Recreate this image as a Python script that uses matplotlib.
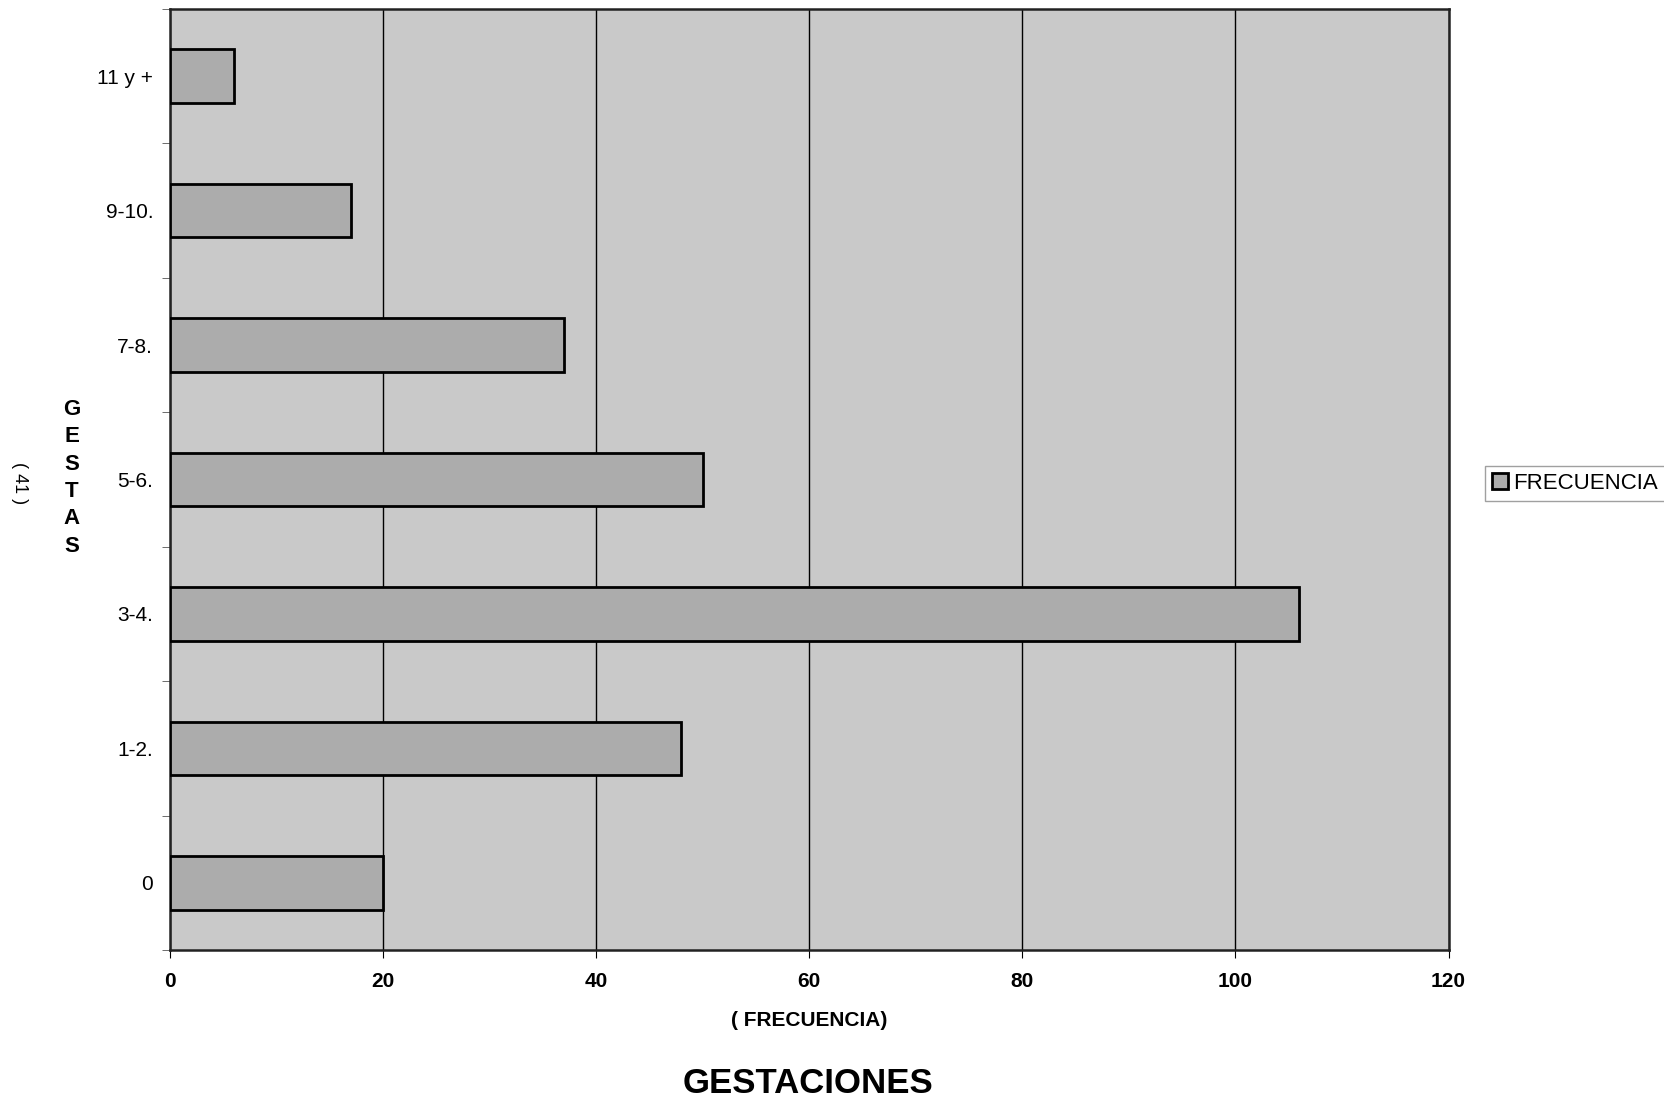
import numpy as np
import matplotlib.pyplot as plt

# data
categorias = ['0', '1-2.', '3-4.', '5-6.', '7-8.', '9-10.', '11 y +']
frecuencia = [20, 48, 106, 50, 37, 17, 6]
x_ticks = [0, 20, 40, 60, 80, 100, 120]


def main():
    plt.rcParams['font.family'] = ['Liberation Sans', 'DejaVu Sans']

    fig = plt.figure(figsize=(16.65, 11.01), dpi=100)
    ax = fig.add_axes([0.102, 0.137, 0.768, 0.855])
    ax.set_facecolor('#c9c9c9')

    pos = np.arange(len(categorias))
    bars = ax.barh(pos, frecuencia, height=0.4, color='#acacac',
                   edgecolor='black', linewidth=2, zorder=3,
                   label='FRECUENCIA')

    ax.set_xlim(0, 120)
    ax.set_ylim(-0.5, len(categorias) - 0.5)
    ax.set_xticks(x_ticks)
    ax.set_xticklabels([str(v) for v in x_ticks], fontsize=15, fontweight='bold')
    ax.set_yticks(pos)
    ax.set_yticklabels(categorias, fontsize=15)
    ax.set_yticks(np.arange(-0.5, len(categorias), 1), minor=True)
    ax.tick_params(axis='y', which='major', length=0, pad=12)
    ax.tick_params(axis='y', which='minor', length=6, color='#555555')
    ax.tick_params(axis='x', which='major', length=6, pad=10)

    ax.grid(axis='x', color='black', linewidth=1, zorder=1)
    for s in ax.spines.values():
        s.set_linewidth(1.8)
        s.set_color('#222222')

    ax.set_xlabel('( FRECUENCIA)', fontsize=15, fontweight='bold', labelpad=14)

    fig.text(0.043, 0.566, 'G\nE\nS\nT\nA\nS', fontsize=16, fontweight='bold',
             ha='center', va='center', linespacing=1.4)
    fig.text(0.012, 0.561, '( 41 )', fontsize=13, rotation=270,
             ha='center', va='center')
    fig.text(0.485, 0.016, 'GESTACIONES', fontsize=25, fontweight='bold',
             ha='center', va='center')

    leg = fig.legend(handles=[bars], loc='center left',
                     bbox_to_anchor=(0.8895, 0.561), fontsize=16,
                     frameon=True, fancybox=False, handlelength=0.7,
                     handleheight=0.7, handletextpad=0.25, borderpad=0.3,
                     borderaxespad=0.2)
    leg.get_frame().set_edgecolor('#888888')
    leg.get_frame().set_linewidth(1)

    fig.savefig('out.png', dpi=100)


if __name__ == '__main__':
    main()
